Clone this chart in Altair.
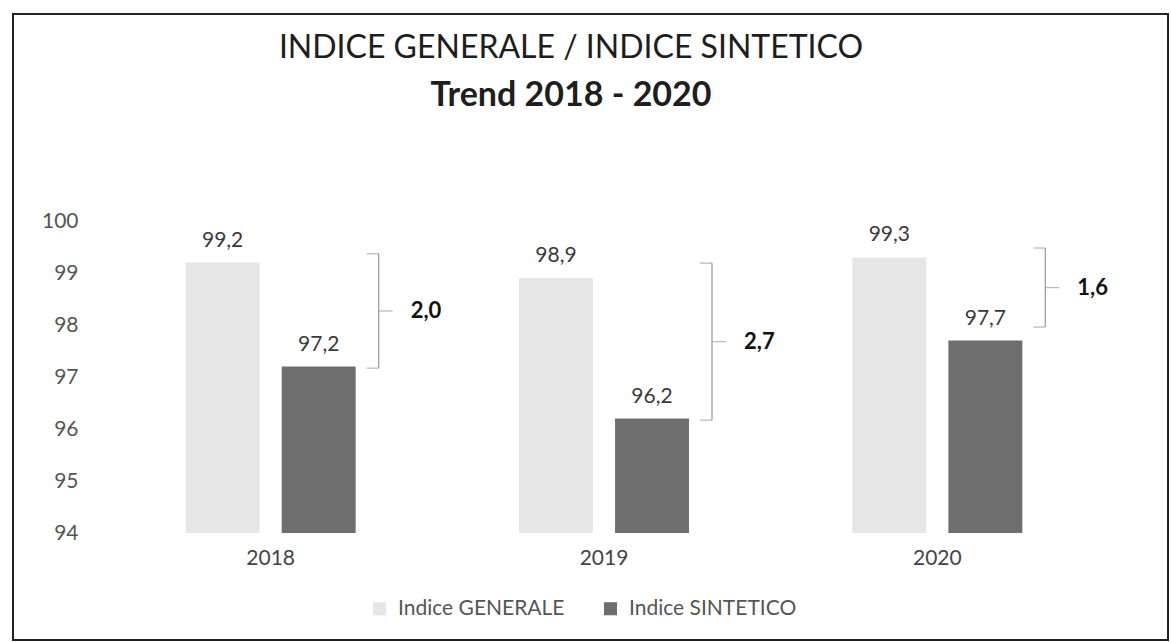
import altair as alt
import pandas as pd

# ---- data ----
years = ["2018", "2019", "2020"]
series_names = ["Indice GENERALE", "Indice SINTETICO"]
generale = [99.2, 98.9, 99.3]
sintetico = [97.2, 96.2, 97.7]
bracket_top = [99.37, 99.19, 99.48]
bracket_bottom = [97.17, 96.17, 97.96]
y_ticks = [94, 95, 96, 97, 98, 99, 100]


def fmt(v):
    return f"{v:.1f}".replace(".", ",")


rows = []
for i, y in enumerate(years):
    rows.append({"year": y, "series": series_names[0], "value": generale[i], "label": fmt(generale[i])})
    rows.append({"year": y, "series": series_names[1], "value": sintetico[i], "label": fmt(sintetico[i])})
bars_df = pd.DataFrame(rows)

diff_df = pd.DataFrame({
    "year": years,
    "top": bracket_top,
    "bottom": bracket_bottom,
    "diff": [fmt(g - s) for g, s in zip(generale, sintetico)],
})

FONT = "Lato"

x_enc = alt.X(
    "year:N",
    sort=years,
    scale=alt.Scale(paddingInner=0.49, paddingOuter=0.245),
    axis=alt.Axis(title=None, labelAngle=0, labelFont=FONT, labelFontSize=21,
                  labelColor="#444444", labelPadding=14, ticks=False, domain=False),
)
y_scale = alt.Scale(domain=[y_ticks[0], y_ticks[-1]], nice=False, zero=False, clamp=True)
y_axis = alt.Axis(values=y_ticks, title=None, grid=False, domain=False, ticks=False,
                  labelPadding=26, labelFont=FONT, labelFontSize=21, labelColor="#555555")
xoff = alt.XOffset("series:N", sort=series_names,
                   scale=alt.Scale(domain=series_names, paddingInner=0.23))

frame = alt.Chart(pd.DataFrame({"f": [0]})).mark_rect(
    fill="white", fillOpacity=0, stroke="#222222", strokeWidth=2
).encode(x=alt.value(-91), x2=alt.value(1064), y=alt.value(-207), y2=alt.value(419))

bars = alt.Chart(bars_df).mark_bar().encode(
    x=x_enc,
    xOffset=xoff,
    y=alt.Y("value:Q", scale=y_scale, axis=y_axis),
    color=alt.Color(
        "series:N",
        scale=alt.Scale(domain=series_names, range=["#e6e6e6", "#6e6e6e"]),
        legend=alt.Legend(title=None, orient="none", legendX=265, legendY=377,
                          direction="horizontal", symbolType="square", symbolSize=170,
                          symbolStrokeWidth=0, labelFont=FONT, labelFontSize=21,
                          labelColor="#555555", labelOffset=8, columnPadding=35,
                          labelLimit=400),
    ),
)

labels = alt.Chart(bars_df).mark_text(
    baseline="bottom", dy=-12, font=FONT, fontSize=21, color="#3a3a3a"
).encode(x=x_enc, xOffset=xoff, y=alt.Y("value:Q", scale=y_scale), text="label:N")

bc = alt.Chart(diff_df).transform_calculate(mid="(datum.top + datum.bottom) / 2")

vert = bc.mark_rule(xOffset=108, color="#a0a0a0", strokeWidth=1.3).encode(
    x=x_enc, y=alt.Y("top:Q", scale=y_scale), y2="bottom:Q")
top_serif = bc.mark_tick(xOffset=102, size=12, thickness=1.3, color="#a0a0a0").encode(
    x=x_enc, y=alt.Y("top:Q", scale=y_scale))
bot_serif = bc.mark_tick(xOffset=102, size=12, thickness=1.3, color="#a0a0a0").encode(
    x=x_enc, y=alt.Y("bottom:Q", scale=y_scale))
mid_tick = bc.mark_tick(xOffset=115, size=14, thickness=1.3, color="#a0a0a0").encode(
    x=x_enc, y=alt.Y("mid:Q", scale=y_scale))
diff_text = bc.mark_text(align="left", baseline="middle", dx=140, font=FONT,
                         fontWeight="bold", fontSize=22, color="#111111").encode(
    x=x_enc, y=alt.Y("mid:Q", scale=y_scale), text="diff:N")

chart = alt.layer(frame, bars, labels, vert, top_serif, bot_serif, mid_tick, diff_text).properties(
    width=1000,
    height=312,
    padding={"left": 104, "top": 221, "right": 67, "bottom": 109},
    autosize=alt.AutoSizeParams(type="none"),
    background="white",
    title=alt.TitleParams(
        text="INDICE GENERALE / INDICE SINTETICO",
        subtitle="Trend 2018 - 2020",
        anchor="middle",
        frame="group",
        font=FONT, fontSize=32, fontWeight="normal", color="#1e1e1e",
        subtitleFont=FONT, subtitleFontSize=34, subtitleFontWeight="bold",
        subtitleColor="#1e1e1e", subtitlePadding=14,
        offset=-101, dx=-33,
    ),
).configure_view(stroke=None)

chart.save("out.html", embed_options={"renderer": "svg", "actions": False})
